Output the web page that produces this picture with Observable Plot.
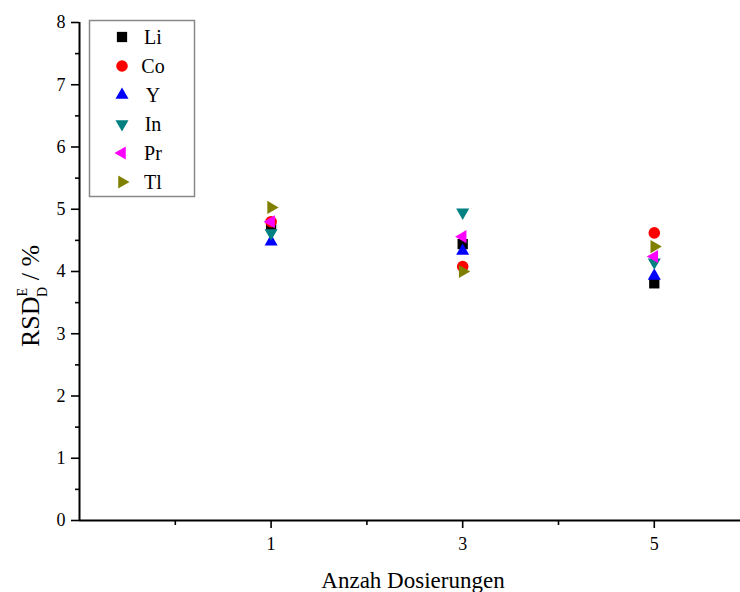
<!DOCTYPE html>
<html>
<head>
<meta charset="utf-8">
<script src="https://cdn.jsdelivr.net/npm/d3@7"></script>
<script src="https://cdn.jsdelivr.net/npm/@observablehq/plot@0.6"></script>
<style>
  html, body { margin: 0; padding: 0; background: #fff; }
  #chart { width: 740px; height: 592px; overflow: hidden; }
</style>
</head>
<body>
<div id="chart"></div>
<script>
// ---- data ----
const doses = [1, 3, 5];
const elements = ["Li", "Co", "Y", "In", "Pr", "Tl"];
const Li = [4.75, 4.44, 3.81];
const Co = [4.80, 4.08, 4.62];
const Yv = [4.48, 4.33, 3.93];
const In = [4.62, 4.95, 4.15];
const Pr = [4.80, 4.56, 4.24];
const Tl = [5.03, 4.00, 4.40];
const colors = ["#000000", "#ff0000", "#0000ff", "#008080", "#ff00ff", "#808000"];
const yTicks = [0, 1, 2, 3, 4, 5, 6, 7, 8];
const yMinor = [0.5, 1.5, 2.5, 3.5, 4.5, 5.5, 6.5, 7.5];
const xTicks = [1, 3, 5];
const xMinor = [0, 2, 4];
const xLabel = "Anzah Dosierungen";

const series = [Li, Co, Yv, In, Pr, Tl];

// ---- symbols ----
function tri(deg) {
  return {
    draw(ctx, size) {
      const R = Math.sqrt(size / Math.PI) * 1.3;
      for (let k = 0; k < 3; k++) {
        const a = (deg + k * 120) * Math.PI / 180;
        const px = R * Math.cos(a), py = R * Math.sin(a);
        if (k === 0) ctx.moveTo(px, py); else ctx.lineTo(px, py);
      }
      ctx.closePath();
    }
  };
}
const symbols = [d3.symbolSquare, d3.symbolCircle, tri(-90), tri(90), tri(180), tri(0)];

const rows = elements.flatMap((el, k) =>
  doses.map((d, i) => ({dose: d, value: series[k][i], el})));

const dotMarks = elements.map((el, k) =>
  Plot.dot(rows.filter(r => r.el === el), {
    x: "dose", y: "value", symbol: symbols[k], fill: colors[k], stroke: "none", r: 5.8
  }));

const font = "'Liberation Serif', 'Times New Roman', 'DejaVu Serif', serif";

const plot = Plot.plot({
  width: 740,
  height: 592,
  marginLeft: 79,
  marginRight: 0,
  marginTop: 22,
  marginBottom: 72,
  style: {fontFamily: font, background: "#fff", color: "#000"},
  x: {domain: [-1, 5.9]},
  y: {domain: [0, 8]},
  marks: [
    Plot.axisY({ticks: yTicks, tickSize: 8, tickPadding: 6, fontSize: 18, strokeWidth: 1.6, label: null, tickFormat: d3.format("d")}),
    Plot.axisY({ticks: yMinor, tickSize: 4, tickFormat: () => "", strokeWidth: 1.6, label: null}),
    Plot.axisX({ticks: xTicks, tickSize: 8, tickPadding: 9, fontSize: 18, strokeWidth: 1.6, label: null, tickFormat: d3.format("d")}),
    Plot.axisX({ticks: xMinor, tickSize: 5, tickFormat: () => "", strokeWidth: 1.6, label: null}),
    Plot.ruleX([-1], {y1: 0, y2: 8, strokeWidth: 2}),
    Plot.ruleY([0], {strokeWidth: 2}),
    ...dotMarks
  ]
});

document.getElementById("chart").appendChild(plot);

const svg = d3.select(plot);

// x-axis title
svg.append("text")
  .attr("x", 413).attr("y", 588)
  .attr("text-anchor", "middle")
  .attr("font-family", font).attr("font-size", 23)
  .attr("fill", "#000")
  .text(xLabel);

// y-axis title: RSD_D^E / %
const yt = svg.append("text")
  .attr("transform", "translate(39,296) rotate(-90)")
  .attr("text-anchor", "middle")
  .attr("font-family", font).attr("font-size", 26)
  .attr("fill", "#000");
yt.append("tspan").text("RSD");
yt.append("tspan").attr("font-size", 14).attr("dy", -12).text("E");
yt.append("tspan").attr("font-size", 14).attr("dx", -9).attr("dy", 20).text("D");
yt.append("tspan").attr("dy", -8).text(" / %");

// legend
const lg = svg.append("g");
lg.append("rect")
  .attr("x", 89.5).attr("y", 20.5).attr("width", 105).attr("height", 176)
  .attr("fill", "#fff").attr("stroke", "#888").attr("stroke-width", 1.5);
elements.forEach((el, k) => {
  const cy = 37 + k * 29;
  lg.append("path")
    .attr("transform", `translate(122,${cy})`)
    .attr("d", d3.symbol(symbols[k], Math.PI * 5.8 * 5.8)())
    .attr("fill", colors[k]);
  lg.append("text")
    .attr("x", 153).attr("y", cy + 7)
    .attr("font-family", font).attr("font-size", 20)
    .attr("fill", "#000")
    .text(el);
});
</script>
</body>
</html>
